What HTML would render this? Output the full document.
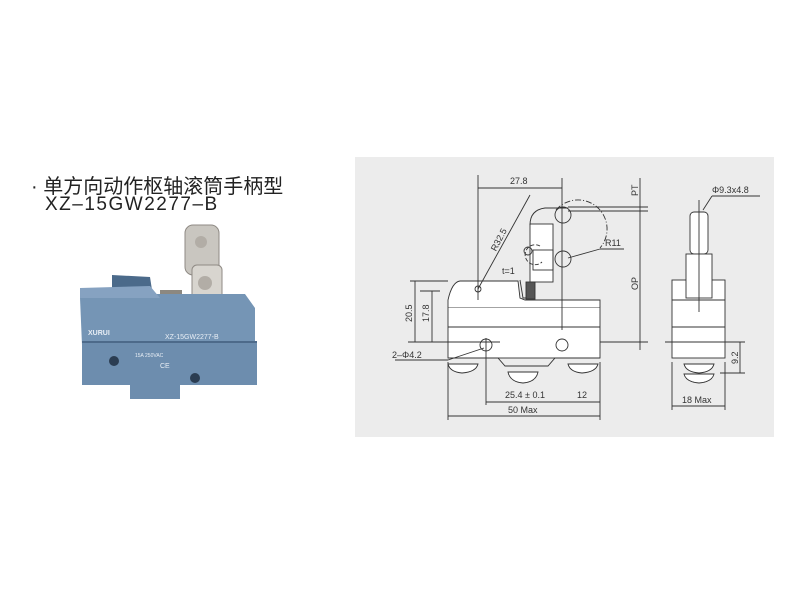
<!DOCTYPE html>
<html><head><meta charset="utf-8"><style>
body{margin:0;width:800px;height:600px;background:#fff;overflow:hidden;position:relative;font-family:"Liberation Sans","Noto Sans CJK SC",sans-serif}
.t{position:absolute;color:#222;white-space:nowrap}
</style></head><body>
<div class="t" style="left:31px;top:170px;font-size:20px;">·&nbsp;单方向动作枢轴滚筒手柄型</div>
<div class="t" style="left:45px;top:194px;font-size:19px;letter-spacing:1.5px;">XZ–15GW2277–B</div>
<svg width="800" height="600" style="position:absolute;left:0;top:0">
<g>
<rect x="185" y="225" width="34" height="50" rx="8" fill="#c9c6c0" stroke="#8f8a84"/>
<rect x="192" y="265" width="30" height="38" rx="5" fill="#d8d5cf" stroke="#8f8a84"/>
<circle cx="201" cy="242" r="6" fill="#b2ada6"/>
<circle cx="205" cy="283" r="7" fill="#b2ada6"/>
<polygon points="112,275 150,277 152,290 112,292" fill="#4b6a8a"/>
<rect x="160" y="290" width="22" height="32" fill="#8c8880"/>
<polygon points="82,294 245,294 255,308 255,345 82,345 80,298" fill="#7595b5"/>
<polygon points="80,288 150,286 160,298 80,298" fill="#86a2c1"/>
<rect x="82" y="342" width="175" height="43" fill="#6d8dae"/>
<rect x="130" y="383" width="50" height="16" fill="#6d8dae"/>
<line x1="82" y1="342" x2="257" y2="342" stroke="#4d6a8a" stroke-width="2"/>
<circle cx="114" cy="361" r="5" fill="#2b3d52"/>
<circle cx="195" cy="378" r="5" fill="#2b3d52"/>
<text x="88" y="335" font-size="7" fill="#e8eef5" font-weight="bold">XURUI</text>
<text x="165" y="339" font-size="7" fill="#e8eef5">XZ-15GW2277-B</text>
<text x="135" y="357" font-size="5" fill="#e8eef5">15A 250VAC</text>
<text x="160" y="368" font-size="7" fill="#e8eef5">CE</text>
</g>
<rect x="355" y="157" width="419" height="280" fill="#ececec"/>
<g fill="none" stroke="#333" stroke-width="0.9" font-size="9">
<rect x="448" y="307" width="152" height="51" fill="#fff"/>
<line x1="448" y1="327" x2="600" y2="327"/>
<path d="M448,307 L448,300 Q452,282 460,281 L518,281 L520,298 L525,300 L600,300 L600,307" fill="#fff"/>
<rect x="530" y="224" width="23" height="58" fill="#fff"/>
<rect x="533" y="250" width="20" height="20"/>
<circle cx="563" cy="259" r="8"/>
<circle cx="563" cy="215" r="8"/>
<path d="M530,225 Q530,210 545,208 L568,208"/>
<path d="M520,280 L523,298 L528,298" />
<rect x="526" y="282" width="9" height="17" fill="#555"/>
<path d="M556,210 A22,22 0 0 1 600,248" stroke-dasharray="6 2 1 2"/>
<path d="M540,246 A10,10 0 1 0 542,262" stroke-dasharray="4 2"/>
<circle cx="528" cy="251" r="4"/>
<circle cx="478" cy="289" r="3"/>
<circle cx="486" cy="345" r="6"/>
<circle cx="562" cy="345" r="6"/>
<path d="M448,358 L498,358 L505,366 L548,366 L555,358 L600,358"/>
<path d="M448,364 L478,364 Q476,372 462,373 Q450,372 448,364Z" fill="#fff"/>
<path d="M568,364 L598,364 Q596,372 582,373 Q570,372 568,364Z" fill="#fff"/>
<path d="M508,372 L538,372 Q536,382 523,383 Q510,382 508,372Z" fill="#fff"/>
<line x1="478" y1="175" x2="478" y2="300"/>
<line x1="562" y1="178" x2="562" y2="330"/>
<line x1="478" y1="188" x2="562" y2="188"/>
<text x="510" y="184" stroke="none" fill="#333">27.8</text>
<line x1="478" y1="289" x2="530" y2="195"/>
<text x="490" y="248" stroke="none" fill="#333" transform="rotate(-62 496 245)">R32.5</text>
<text x="502" y="274" stroke="none" fill="#333">t=1</text>
<line x1="568" y1="258" x2="600" y2="249"/><line x1="600" y1="249" x2="624" y2="249"/>
<text x="605" y="246" stroke="none" fill="#333">R11</text>
<line x1="568" y1="207" x2="648" y2="207"/><line x1="568" y1="211" x2="648" y2="211"/>
<line x1="640" y1="178" x2="640" y2="350"/>
<line x1="600" y1="342" x2="648" y2="342"/>
<text x="0" y="0" stroke="none" fill="#333" transform="translate(638 196) rotate(-90)">PT</text>
<text x="0" y="0" stroke="none" fill="#333" transform="translate(638 290) rotate(-90)">OP</text>
<line x1="410" y1="281" x2="448" y2="281"/><line x1="420" y1="291" x2="440" y2="291"/>
<line x1="415" y1="281" x2="415" y2="342"/><line x1="432" y1="291" x2="432" y2="342"/>
<line x1="408" y1="342" x2="500" y2="342"/>
<text x="0" y="0" stroke="none" fill="#333" transform="translate(412 322) rotate(-90)">20.5</text>
<text x="0" y="0" stroke="none" fill="#333" transform="translate(429 322) rotate(-90)">17.8</text>
<line x1="395" y1="360" x2="448" y2="360"/><line x1="448" y1="360" x2="484" y2="348"/>
<text x="392" y="358" stroke="none" fill="#333">2–Φ4.2</text>
<line x1="486" y1="338" x2="486" y2="405"/>
<line x1="448" y1="362" x2="448" y2="420"/><line x1="600" y1="362" x2="600" y2="420"/>
<line x1="486" y1="402" x2="600" y2="402"/>
<text x="505" y="398" stroke="none" fill="#333">25.4 ± 0.1</text>
<text x="577" y="398" stroke="none" fill="#333">12</text>
<line x1="448" y1="416" x2="600" y2="416"/>
<text x="508" y="413" stroke="none" fill="#333">50 Max</text>
<rect x="672" y="280" width="53" height="78" fill="#fff"/>
<line x1="672" y1="300" x2="725" y2="300"/><line x1="672" y1="327" x2="725" y2="327"/>
<rect x="690" y="212" width="18" height="42" rx="4" fill="#fff"/>
<rect x="686" y="254" width="26" height="44" fill="#fff"/>
<line x1="699" y1="200" x2="699" y2="312"/>
<line x1="665" y1="342" x2="745" y2="342"/>
<path d="M684,364 L714,364 Q712,372 699,373 Q686,372 684,364Z" fill="#fff"/>
<path d="M684,374 L714,374 Q712,382 699,383 Q686,382 684,374Z" fill="#fff"/>
<line x1="720" y1="373" x2="745" y2="373"/><line x1="740" y1="342" x2="740" y2="373"/>
<text x="0" y="0" stroke="none" fill="#333" transform="translate(738 364) rotate(-90)">9.2</text>
<line x1="672" y1="362" x2="672" y2="410"/><line x1="725" y1="362" x2="725" y2="410"/>
<line x1="672" y1="406" x2="725" y2="406"/>
<text x="682" y="403" stroke="none" fill="#333">18 Max</text>
<line x1="703" y1="210" x2="712" y2="196"/><line x1="712" y1="196" x2="760" y2="196"/>
<text x="712" y="193" stroke="none" fill="#333">Φ9.3x4.8</text>
</g>
</svg>
</body></html>
